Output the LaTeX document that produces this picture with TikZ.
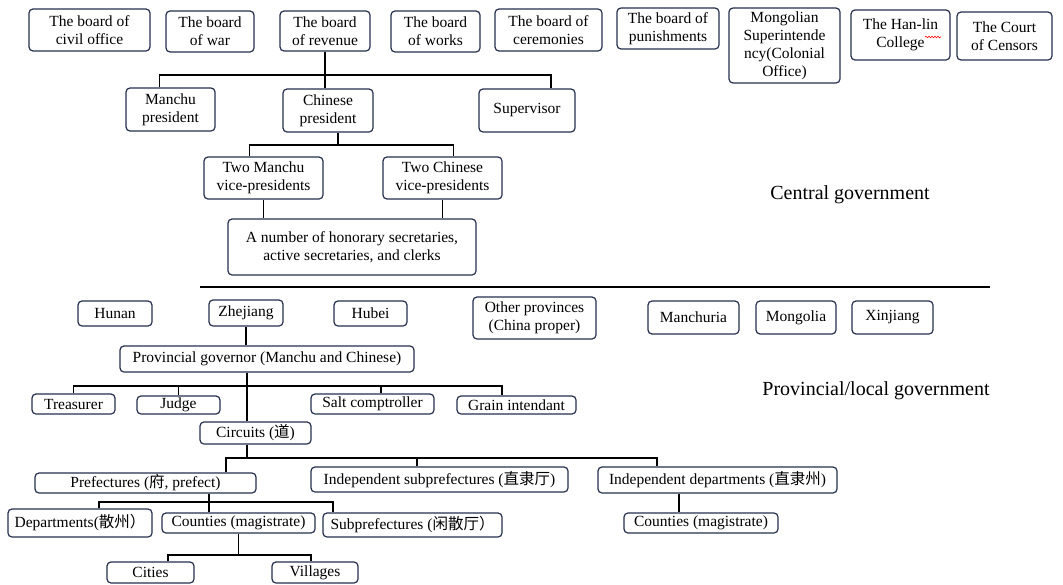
\documentclass[tikz,border=0pt]{standalone}
\usepackage{fontspec}
\setmainfont{Liberation Serif}
\newfontfamily\cjk{Noto Sans CJK SC}
\usetikzlibrary{decorations.pathmorphing}

\newcommand{\zh}[1]{{\cjk #1}}
\definecolor{boxline}{RGB}{38,48,78}

\tikzset{
  office/.style={draw=boxline, line width=1.2pt, rounded corners=4pt, align=center,
    inner sep=0pt, font=\fontsize{15.5}{18}\selectfont},
  link/.style={line width=1.8pt, black},
  level/.style={font=\fontsize{20}{24}\selectfont}
}

\begin{document}
\begin{tikzpicture}[x=1pt, y=-1pt]
    \useasboundingbox (0,0) rectangle (1063,584);

    % Boards and courts of the capital
    \node[office, minimum width=121, minimum height=42] (civil) at (89.5,30) {The board of\\civil office};
    \node[office, minimum width=88, minimum height=41] (war) at (210,31.5) {The board\\of war};
    \node[office, minimum width=90, minimum height=40] (rev) at (325,31) {The board\\of revenue};
    \node[office, minimum width=89, minimum height=41] (works) at (435.5,31.5) {The board\\of works};
    \node[office, minimum width=107, minimum height=42] (cer) at (548.5,30) {The board of\\ceremonies};
    \node[office, minimum width=102, minimum height=41] (pun) at (668,28.5) {The board of\\punishments};
    \node[office, minimum width=111, minimum height=75] (mong) at (784.5,45.5) {Mongolian\\Superintende\\ncy(Colonial\\Office)};
    \node[office, minimum width=99, minimum height=50] (hanlin) at (900.5,35) {The Han-lin\\College};
    \node[office, minimum width=95, minimum height=48] (censor) at (1004.5,36) {The Court\\of Censors};
    \draw[red, line width=0.6pt, decorate, decoration={snake, amplitude=0.8pt, segment length=3pt}] (925,37) -- (941,37);

    % Board of revenue, its heads and staff
    \node[office, minimum width=89, minimum height=43] (mpres) at (170.5,109.5) {Manchu\\president};
    \node[office, minimum width=90, minimum height=43] (cpres) at (328,110.5) {Chinese\\president};
    \node[office, minimum width=96, minimum height=43] (sup) at (527,110.5) {Supervisor};
    \node[office, minimum width=119, minimum height=42] (tman) at (263.5,178) {Two Manchu\\vice-presidents};
    \node[office, minimum width=119, minimum height=42] (tchi) at (442.5,178) {Two Chinese\\vice-presidents};
    \node[office, minimum width=248, minimum height=56] (secr) at (352,247) {A number of honorary secretaries,\\active secretaries, and clerks};

    \draw[link] (rev.south) -- ++(0,23) coordinate (revbus);
    \draw[link] ([xshift=-11pt]mpres.north) |- (revbus) -| ([xshift=24pt]sup.north);
    \draw[link] (revbus) -- (revbus |- cpres.north);
    \draw[link] ([xshift=10pt]cpres.south) -- ++(0,12) coordinate (presbus);
    \draw[link] ([xshift=-14pt]tman.north) |- (presbus) -| ([xshift=11pt]tchi.north);
    \draw[link] (tman.south) -- (tman.south |- secr.north);
    \draw[link] (tchi.south) -- (tchi.south |- secr.north);

    \node[level] (central) at (850,195) {Central government};

    % Divider between the two levels
    \draw[line width=1.3pt] (200,287) -- (990,287);

    % Provinces
    \node[office, minimum width=74, minimum height=25] (hunan) at (115,313.5) {Hunan};
    \node[office, minimum width=74, minimum height=26] (zhe) at (246,313) {Zhejiang};
    \node[office, minimum width=73, minimum height=25] (hubei) at (370.5,313.5) {Hubei};
    \node[office, minimum width=123, minimum height=42] (other) at (534.5,318) {Other provinces\\(China proper)};
    \node[office, minimum width=91, minimum height=33] (manch) at (693.5,317.5) {Manchuria};
    \node[office, minimum width=80, minimum height=33] (mongo) at (796,317.5) {Mongolia};
    \node[office, minimum width=81, minimum height=33] (xin) at (892.5,317.5) {Xinjiang};

    \node[level] (local) at (876,391) {Provincial/local government};

    % Governor and his officers
    \node[office, minimum width=294, minimum height=26] (gov) at (267,359) {Provincial governor (Manchu and Chinese)};
    \node[office, minimum width=83, minimum height=20] (trea) at (73.5,404) {Treasurer};
    \node[office, minimum width=83, minimum height=18] (judge) at (178.5,405) {Judge};
    \node[office, minimum width=123, minimum height=20] (salt) at (372.5,404) {Salt comptroller};
    \node[office, minimum width=119, minimum height=18] (grain) at (516.5,405) {Grain intendant};
    \node[office, minimum width=111, minimum height=22] (circ) at (255.5,433) {Circuits (\zh{道})};

    \draw[link] (zhe.south) -- (zhe.south |- gov.north);
    \draw[link] ([xshift=-20pt]gov.south) -- ([xshift=-8.5pt]circ.north);
    \path ([xshift=-20pt]gov.south) ++(0,13) coordinate (govbus);
    \draw[link] (trea.north) |- (govbus) -| ([xshift=-14.5pt]grain.north);
    \draw[link] (judge.north) -- (judge.north |- govbus);
    \draw[link] ([xshift=8.5pt]salt.north) -- ([xshift=8.5pt]salt.north |- govbus);

    % Prefectures, departments and counties
    \node[office, minimum width=221, minimum height=20] (pref) at (145.5,483) {Prefectures (\zh{府}, prefect)};
    \node[office, minimum width=257, minimum height=25] (isub) at (439.5,479.5) {Independent subprefectures (\zh{直隶厅})};
    \node[office, minimum width=239, minimum height=26] (idep) at (717.5,480) {Independent departments (\zh{直隶州})};
    \node[office, minimum width=154, minimum height=20] (cnt2) at (701,523) {Counties (magistrate)};
    \node[office, minimum width=144, minimum height=28] (dept) at (80,523) {Departments(\zh{散州）}};
    \node[office, minimum width=153, minimum height=20] (cnt) at (238.5,523) {Counties (magistrate)};
    \node[office, minimum width=179, minimum height=24] (subp) at (412.5,525) {Subprefectures (\zh{闲散厅）}};
    \node[office, minimum width=87, minimum height=21] (cities) at (150.5,572.5) {Cities};
    \node[office, minimum width=86, minimum height=21] (vill) at (315,572.5) {Villages};

    \path ([xshift=-8.5pt]circ.south) ++(0,13) coordinate (circbus);
    \draw[link] ([xshift=-8.5pt]circ.south) -- (circbus);
    \draw[link] ([xshift=80.5pt]pref.north) |- (circbus) -| ([xshift=-60.5pt]idep.north);
    \draw[link] ([xshift=-22.5pt]isub.north) -- ([xshift=-22.5pt]isub.north |- circbus);
    \draw[link] ([xshift=-38.5pt]idep.south) -- ([xshift=-38.5pt]idep.south |- cnt2.north);

    \path ([xshift=63.5pt]pref.south) ++(0,8) coordinate (prefbus);
    \draw[link] ([xshift=63.5pt]pref.south) -- (prefbus) -- (prefbus |- cnt.north);
    \draw[link] ([xshift=19pt]dept.north) |- (prefbus) -| ([xshift=-79.5pt]subp.north);

    \path (cnt.south) ++(0,21) coordinate (cntbus);
    \draw[link] (cnt.south) -- (cntbus);
    \draw[link] ([xshift=17.5pt]cities.north) |- (cntbus) -| ([xshift=-4pt]vill.north);

\end{tikzpicture}
\end{document}
